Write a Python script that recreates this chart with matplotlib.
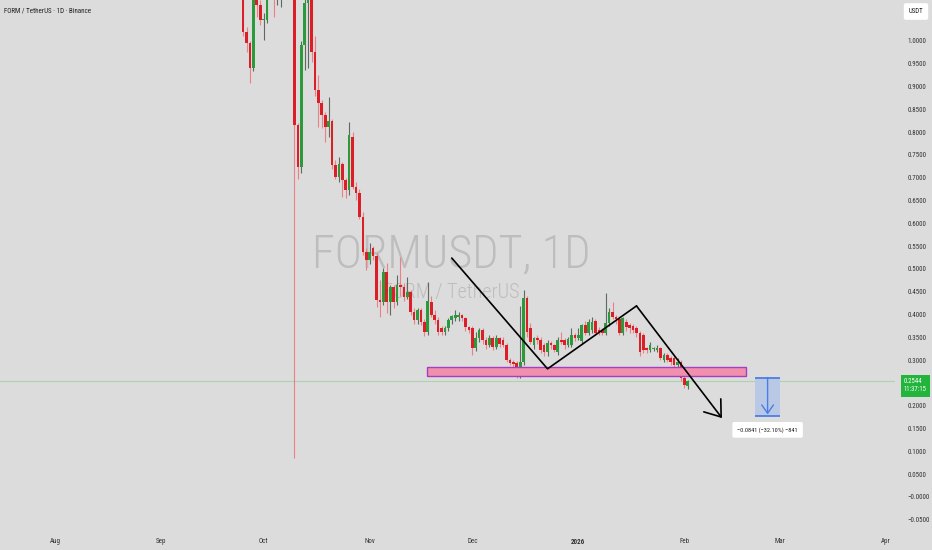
import matplotlib
matplotlib.use("Agg")
import matplotlib.pyplot as plt
import matplotlib.dates as mdates
import matplotlib.transforms as mtransforms
from matplotlib import font_manager
from matplotlib.patches import Rectangle
import numpy as np
import pandas as pd

# FORM / USDT daily candles (first candle 2025-09-25)
start_date = "2025-09-25"
opens = [1.25, 1.02, 0.996, 0.941, 1.15, 1.08, 1.046, 1.046, 1.15, 1.13,
         1.11, 1.10, 1.12, 1.16, 1.18, 1.20, 0.816, 0.724, 0.991, 1.083,
         1.10, 0.976, 0.893, 0.864, 0.838, 0.811, 0.825, 0.728, 0.702, 0.73,
         0.695, 0.673, 0.79, 0.68, 0.667, 0.614, 0.537, 0.52, 0.545, 0.529,
         0.432, 0.428, 0.493, 0.428, 0.461, 0.428, 0.465, 0.461, 0.439, 0.45,
         0.406, 0.388, 0.41, 0.384, 0.362, 0.428, 0.40, 0.388, 0.37, 0.362,
         0.37, 0.388, 0.393, 0.395, 0.40, 0.393, 0.373, 0.37, 0.327, 0.349,
         0.366, 0.344, 0.333, 0.349, 0.33, 0.349, 0.344, 0.333, 0.30, 0.296,
         0.294, 0.272, 0.296, 0.436, 0.37, 0.333, 0.349, 0.344, 0.333, 0.318,
         0.338, 0.333, 0.318, 0.344, 0.344, 0.333, 0.333, 0.355, 0.349, 0.342,
         0.377, 0.36, 0.366, 0.386, 0.366, 0.366, 0.36, 0.382, 0.406, 0.395,
         0.39, 0.36, 0.384, 0.377, 0.375, 0.37, 0.36, 0.355, 0.327, 0.322,
         0.325, 0.322, 0.327, 0.30, 0.311, 0.305, 0.305, 0.29, 0.296, 0.26,
         0.243]
highs = [1.30, 1.03, 1.00, 1.20, 1.16, 1.09, 1.061, 1.13, 1.20, 1.15,
         1.17, 1.14, 1.19, 1.22, 1.24, 1.22, 0.82, 1.00, 1.10, 1.12,
         1.12, 1.01, 0.925, 0.87, 0.845, 0.877, 0.83, 0.738, 0.746, 0.735,
         0.70, 0.822, 0.80, 0.69, 0.675, 0.625, 0.545, 0.557, 0.55, 0.535,
         0.476, 0.502, 0.513, 0.465, 0.465, 0.487, 0.526, 0.47, 0.482, 0.455,
         0.414, 0.415, 0.415, 0.39, 0.472, 0.44, 0.41, 0.395, 0.375, 0.375,
         0.392, 0.40, 0.41, 0.405, 0.402, 0.395, 0.376, 0.375, 0.362, 0.37,
         0.37, 0.35, 0.355, 0.352, 0.355, 0.35, 0.35, 0.337, 0.305, 0.30,
         0.298, 0.419, 0.454, 0.44, 0.382, 0.35, 0.355, 0.35, 0.338, 0.345,
         0.342, 0.336, 0.35, 0.362, 0.348, 0.35, 0.37, 0.36, 0.37, 0.38,
         0.385, 0.39, 0.395, 0.39, 0.372, 0.37, 0.447, 0.415, 0.428, 0.40,
         0.395, 0.395, 0.39, 0.382, 0.38, 0.375, 0.365, 0.36, 0.33, 0.34,
         0.33, 0.333, 0.33, 0.315, 0.315, 0.31, 0.31, 0.305, 0.30, 0.265,
         0.256]
lows = [1.01, 0.975, 0.908, 0.935, 1.053, 1.035, 1.002, 1.04, 1.11, 1.053,
        1.08, 1.075, 1.10, 1.12, 1.15, 0.085, 0.697, 0.71, 0.936, 0.94,
        0.954, 0.88, 0.812, 0.81, 0.778, 0.79, 0.72, 0.698, 0.69, 0.658,
        0.655, 0.662, 0.675, 0.651, 0.61, 0.53, 0.498, 0.51, 0.52, 0.417,
        0.395, 0.42, 0.404, 0.40, 0.415, 0.42, 0.44, 0.43, 0.435, 0.40,
        0.38, 0.38, 0.378, 0.353, 0.355, 0.395, 0.38, 0.355, 0.355, 0.355,
        0.365, 0.38, 0.385, 0.385, 0.385, 0.365, 0.36, 0.311, 0.32, 0.34,
        0.335, 0.325, 0.328, 0.322, 0.325, 0.33, 0.328, 0.295, 0.29, 0.285,
        0.262, 0.262, 0.29, 0.35, 0.335, 0.325, 0.335, 0.315, 0.31, 0.31,
        0.325, 0.318, 0.312, 0.335, 0.325, 0.328, 0.328, 0.342, 0.345, 0.335,
        0.355, 0.355, 0.36, 0.355, 0.355, 0.355, 0.355, 0.375, 0.39, 0.38,
        0.355, 0.355, 0.365, 0.36, 0.36, 0.35, 0.31, 0.315, 0.315, 0.318,
        0.32, 0.318, 0.30, 0.295, 0.295, 0.29, 0.285, 0.285, 0.255, 0.24,
        0.236]
closes = [1.02, 0.996, 0.941, 1.15, 1.08, 1.046, 1.048, 1.10, 1.13, 1.10,
          1.14, 1.12, 1.16, 1.18, 1.20, 0.816, 0.724, 0.991, 1.083, 1.10,
          0.976, 0.893, 0.864, 0.838, 0.811, 0.825, 0.728, 0.702, 0.73, 0.695,
          0.673, 0.794, 0.68, 0.667, 0.614, 0.537, 0.52, 0.537, 0.529, 0.432,
          0.428, 0.493, 0.428, 0.461, 0.428, 0.465, 0.461, 0.439, 0.45, 0.406,
          0.388, 0.41, 0.384, 0.362, 0.43, 0.399, 0.388, 0.362, 0.362, 0.37,
          0.388, 0.397, 0.40, 0.40, 0.393, 0.373, 0.366, 0.327, 0.349, 0.366,
          0.344, 0.333, 0.349, 0.33, 0.349, 0.335, 0.333, 0.30, 0.294, 0.292,
          0.268, 0.296, 0.436, 0.362, 0.34, 0.349, 0.344, 0.322, 0.318, 0.338,
          0.333, 0.322, 0.344, 0.34, 0.333, 0.346, 0.355, 0.349, 0.355, 0.377,
          0.36, 0.384, 0.384, 0.36, 0.36, 0.36, 0.382, 0.406, 0.395, 0.39,
          0.36, 0.393, 0.373, 0.371, 0.366, 0.36, 0.318, 0.322, 0.322, 0.333,
          0.3255, 0.327, 0.305, 0.311, 0.30, 0.296, 0.29, 0.296, 0.26, 0.246,
          0.2544]

last_price = 0.2544
countdown = "11:37:15"

month_ticks = ["2025-08-01", "2025-09-01", "2025-10-01", "2025-11-01", "2025-12-01",
               "2026-01-01", "2026-02-01", "2026-03-01", "2026-04-01"]
month_labels = ["Aug", "Sep", "Oct", "Nov", "Dec", "2026", "Feb", "Mar", "Apr"]
price_ticks = [-0.05, 0.0, 0.05, 0.10, 0.15, 0.20, 0.30, 0.35, 0.40, 0.45, 0.50,
               0.55, 0.60, 0.65, 0.70, 0.75, 0.80, 0.85, 0.90, 0.95, 1.00]

# hand drawings on the chart
pattern_dates = ["2025-11-25", "2025-12-23", "2026-01-18", "2026-02-12"]
pattern_prices = [0.524, 0.281, 0.419, 0.173]
zone_dates = ["2025-11-17 18:00", "2026-02-19 00:00"]
zone_prices = [0.265, 0.285]
measure_dates = ["2026-02-21 16:00", "2026-03-01 00:00"]
measure_prices = [0.262, 0.1779]
measure_label = "\u22120.0841 (\u221232.10%) \u2212841"

BG = "#dcdcdc"
RED, RED_WICK = "#dc1f27", "#ee7f86"
GREEN, GREEN_WICK = "#2a9a3a", "#5d6a5f"

# the screenshot text is narrow; use a condensed face if one is around
avail = {f.name for f in font_manager.fontManager.ttflist}
FONT = next((n for n in ["Roboto Condensed", "Liberation Sans Narrow", "Open Sans Condensed"]
             if n in avail), "Roboto")
plt.rcParams["font.family"] = [FONT, "DejaVu Sans"]


def to_num(dates):
    return mdates.date2num(pd.to_datetime(dates, format="mixed"))


fig = plt.figure(figsize=(9.32, 5.5), dpi=100, facecolor=BG)
renderer = fig.canvas.get_renderer()


def size_for(s, target_px, weight="normal"):
    # font size that makes s about target_px wide
    t = fig.text(0, 0, s, fontsize=10, fontweight=weight)
    w = t.get_window_extent(renderer).width
    t.remove()
    return 10 * target_px / w


ax = fig.add_axes([0, 18 / 550, 895 / 932, 532 / 550])
ax.set_facecolor(BG)

d = mdates.date2num(pd.date_range(start_date, periods=len(opens), freq="D"))
o, h, l, c = (np.array(v) for v in (opens, highs, lows, closes))
up = c >= o
ax.vlines(d, l, h, colors=np.where(up, GREEN_WICK, RED_WICK), lw=0.8, zorder=3)
ax.bar(d, np.maximum(np.abs(c - o), 0.0025), bottom=np.minimum(o, c), width=0.78,
       color=np.where(up, GREEN, RED), zorder=4)

# watermark
ax.text(0.504, 0.498, "FORMUSDT, 1D", transform=ax.transAxes, ha="center", va="baseline",
        fontsize=size_for("FORMUSDT, 1D", 278, "light"), fontweight="light",
        color="#bdbdbd", zorder=1)
ax.text(0.504, 0.44, "FORM / TetherUS", transform=ax.transAxes, ha="center", va="baseline",
        fontsize=size_for("FORM / TetherUS", 136, "light"), fontweight="light",
        color="#bdbdbd", zorder=1)

# last price line
ax.axhline(last_price, color="#a9d3b1", lw=0.8, zorder=2)

# support zone
zd = to_num(zone_dates)
ax.add_patch(Rectangle((zd[0], zone_prices[0]), zd[1] - zd[0], zone_prices[1] - zone_prices[0],
                       fc="#f08fae", ec="#a43fc0", lw=1.0, zorder=5))

# pattern lines + arrow
px = to_num(pattern_dates)
ax.plot(px[:3], pattern_prices[:3], color="black", lw=1.2, zorder=6, solid_capstyle="round")
ax.annotate("", xy=(px[3], pattern_prices[3]), xytext=(px[2], pattern_prices[2]),
            arrowprops=dict(arrowstyle="->,head_length=0.75,head_width=0.55", color="black",
                            lw=1.2, shrinkA=0, shrinkB=0, mutation_scale=14), zorder=6)

# measuring tool
md = to_num(measure_dates)
ax.add_patch(Rectangle((md[0], measure_prices[1]), md[1] - md[0],
                       measure_prices[0] - measure_prices[1], fc="#b9c8e4", ec="none", zorder=5))
ax.hlines(measure_prices, md[0], md[1], colors="#4a7ee6", lw=1.3, zorder=6)
mid = (md[0] + md[1]) / 2
ax.annotate("", xy=(mid, measure_prices[1]), xytext=(mid, measure_prices[0]),
            arrowprops=dict(arrowstyle="->,head_length=0.5,head_width=0.35", color="#4a7ee6",
                            lw=1.0, shrinkA=0, shrinkB=1, mutation_scale=12), zorder=6)
ax.annotate(measure_label, xy=(mid, measure_prices[1]), xytext=(0, -14),
            textcoords="offset pixels", ha="center", va="center",
            fontsize=size_for(measure_label, 60), color="#222222", zorder=7,
            bbox=dict(boxstyle="round,pad=0.8,rounding_size=0.3", fc="white", ec="none"))

# axes
ax.set_xlim(to_num(["2025-07-15 22:00", "2026-04-03 14:00"]))
ax.set_ylim(-0.0768, 1.0899)
for s in ax.spines.values():
    s.set_visible(False)

tick_size = size_for("1.0000", 19)
ax.yaxis.tick_right()
ax.set_yticks(price_ticks)
ax.set_yticklabels([("\u22120.0000" if v == 0 else f"{v:.4f}".replace("-", "\u2212"))
                    for v in price_ticks])
ax.tick_params(axis="y", length=0, pad=9, labelsize=tick_size, labelcolor="#333333")

ax.set_xticks(to_num(month_ticks))
ax.set_xticklabels(month_labels)
ax.tick_params(axis="x", length=0, pad=4, labelsize=tick_size, labelcolor="#333333")
for t in ax.get_xticklabels():
    if t.get_text() == "2026":
        t.set_fontweight("bold")

# price label on the scale
trans = mtransforms.blended_transform_factory(ax.transAxes, ax.transData)
ax.annotate(f"{last_price:.4f}\n{countdown}", xy=(1, last_price), xycoords=trans,
            xytext=(9, 3), textcoords="offset pixels", ha="left", va="top",
            fontsize=size_for(countdown, 23), color="white", linespacing=1.3,
            annotation_clip=False,
            bbox=dict(boxstyle="square,pad=0.45", fc="#22b43b", ec="none"))

# header text
title = "FORM / TetherUS \u00b7 1D \u00b7 Binance"
fig.text(4 / 932, 1 - 11 / 550, title, fontsize=size_for(title, 87), color="#222222",
         va="center", ha="left")
fig.text(916 / 932, 1 - 11.5 / 550, "USDT", fontsize=size_for("USDT", 15), color="#222222",
         ha="center", va="center",
         bbox=dict(boxstyle="round,pad=0.7,rounding_size=0.3", fc="white", ec="none"))

fig.savefig("out.png", dpi=100, facecolor=BG)
